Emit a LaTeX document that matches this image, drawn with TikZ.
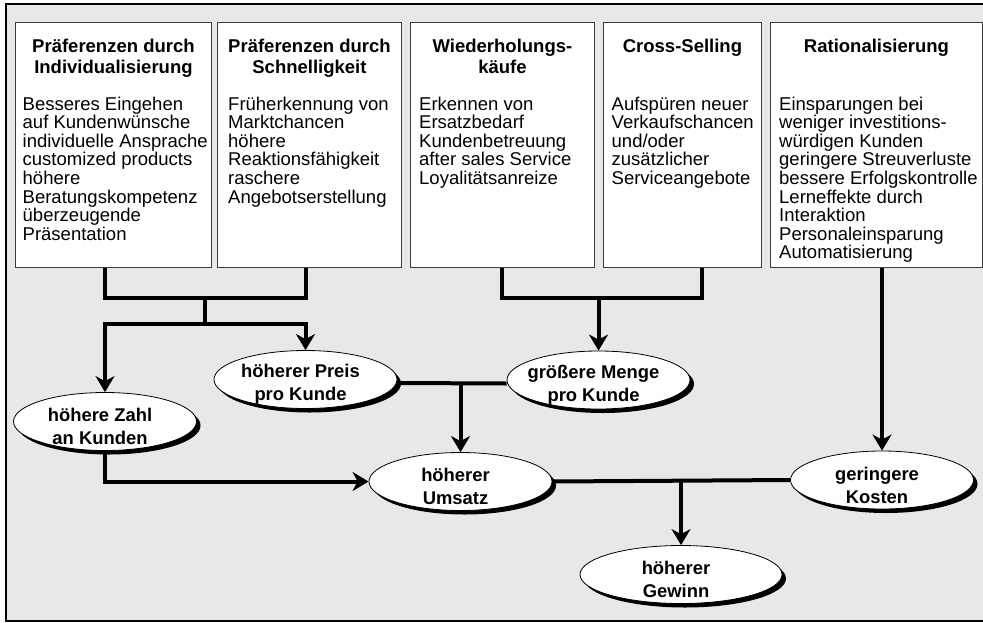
\documentclass[tikz,border=0pt]{standalone}
\usepackage{fontspec}
\setmainfont{Liberation Sans}
\usepackage{tikz}
\usetikzlibrary{arrows.meta}
\usetikzlibrary{shapes.geometric,shadows,calc}
\definecolor{panelgray}{RGB}{232,232,232}
\definecolor{boxline}{RGB}{60,60,60}
\tikzset{
  tbox/.style={draw=boxline,line width=0.9pt,fill=white,inner sep=0pt,
    minimum height=245pt,anchor=north west},
  ttitle/.style={font=\fontsize{18.5}{21}\selectfont\bfseries,align=center,
    anchor=north,inner sep=0pt},
  tbody/.style={font=\fontsize{18.5}{18.6}\selectfont,align=left,
    anchor=north west,inner sep=0pt},
  oval/.style={ellipse,draw,line width=0.8pt,fill=white,inner sep=0pt,
    minimum width=183pt,minimum height=58pt,
    drop shadow={shadow xshift=4pt,shadow yshift=-4pt,fill=black,opacity=1}},
  ovaltext/.style={font=\fontsize{18.4}{23}\selectfont\bfseries,align=center,
    xshift=-5pt,yshift=-5pt},
  flow/.style={line width=4pt,line join=miter},
  flowarr/.style={flow,-{Stealth[length=16pt,width=19pt,inset=5pt]}},
}

\begin{document}
\begin{tikzpicture}[x=1pt,y=-1pt]
  \clip (0,0) rectangle (983,622);
  % panel
  \fill[panelgray] (6,4) rectangle (995,621);
  \draw[line width=1.2pt] (6,4) rectangle (995,621);
  % the five source boxes
  \node[tbox,minimum width=196pt] (b1) at (15,22) {};
  \node[tbox,minimum width=184pt] (b2) at (217,22) {};
  \node[tbox,minimum width=184pt] (b3) at (410,22) {};
  \node[tbox,minimum width=158pt] (b4) at (603,22) {};
  \node[tbox,minimum width=212pt] (b5) at (770,22) {};
  \node[ttitle] (t1) at ([yshift=-16.5pt]b1.north) {Präferenzen durch\\Individualisierung};
  \node[ttitle] (t2) at ([yshift=-16.5pt]b2.north) {Präferenzen durch\\Schnelligkeit};
  \node[ttitle] (t3) at ([yshift=-16.5pt]b3.north) {Wiederholungs-\\käufe};
  \node[ttitle] (t4) at ([yshift=-16.5pt]b4.north) {Cross-Selling};
  \node[ttitle] (t5) at ([yshift=-16.5pt]b5.north) {Rationalisierung};
  \node[tbody] (x1) at ([xshift=7.5pt,yshift=-74.5pt]b1.north west)
    {Besseres Eingehen\\auf Kundenwünsche\\individuelle Ansprache\\customized products\\höhere\\Beratungskompetenz\\überzeugende\\Präsentation};
  \node[tbody] (x2) at ([xshift=11pt,yshift=-74.5pt]b2.north west)
    {Früherkennung von\\Marktchancen\\höhere\\Reaktionsfähigkeit\\raschere\\Angebotserstellung};
  \node[tbody] (x3) at ([xshift=9pt,yshift=-74.5pt]b3.north west)
    {Erkennen von\\Ersatzbedarf\\Kundenbetreuung\\after sales Service\\Loyalitätsanreize};
  \node[tbody] (x4) at ([xshift=8.5pt,yshift=-74.5pt]b4.north west)
    {Aufspüren neuer\\Verkaufschancen\\und/oder\\zusätzlicher\\Serviceangebote};
  \node[tbody] (x5) at ([xshift=9pt,yshift=-74.5pt]b5.north west)
    {Einsparungen bei\\weniger investitions-\\würdigen Kunden\\geringere Streuverluste\\bessere Erfolgskontrolle\\Lerneffekte durch\\Interaktion\\Personaleinsparung\\Automatisierung};
  % effects
  \node[oval,label={[ovaltext]center:{höhere Zahl\\an Kunden}}] (zahl) at (105,421.5) {};
  \node[oval,label={[ovaltext]center:{höherer Preis\\pro Kunde}}] (preis) at (305.5,379.5) {};
  \node[oval,label={[ovaltext]center:{größere Menge\\pro Kunde}}] (menge) at (598.5,380) {};
  \node[oval,label={[ovaltext]center:{höherer\\Umsatz}}] (umsatz) at (460.5,481.5) {};
  \node[oval,label={[ovaltext]center:{geringere\\Kosten}}] (kosten) at (882,480) {};
  \node[oval,minimum width=202pt,label={[ovaltext]center:{höherer\\Gewinn}}] (gewinn) at (681,574.5) {};
  % connectors
  \coordinate (j1) at (204.5,298);
  \coordinate (j2) at (204.5,324);
  \coordinate (j3) at (598.5,298);
  \draw[flow] (b1.south -| zahl) |- (j1) -| (b2.south -| preis);
  \draw[flow] (j1) -- (j2);
  \draw[flowarr] (j2) -| (zahl.north);
  \draw[flowarr] (j2) -| (preis.north);
  \draw[flow] (b3.south) |- (j3) -| ([xshift=20pt]b4.south);
  \draw[flowarr] (j3) -- (menge.north);
  \draw[flowarr] (b5.south -| kosten) -- (kosten.north);
  \draw[flow] ([yshift=-3.5pt]preis.east) -- ([yshift=-3.5pt]menge.west);
  \draw[flowarr] ([yshift=-3.5pt]preis.east -| umsatz) -- (umsatz.north);
  \draw[flowarr] (zahl.south) |- (umsatz.west);
  \draw[flow] (umsatz.east) -- (kosten.west);
  \draw[flowarr] (umsatz.east -| gewinn) -- (gewinn.north);
\end{tikzpicture}
\end{document}
